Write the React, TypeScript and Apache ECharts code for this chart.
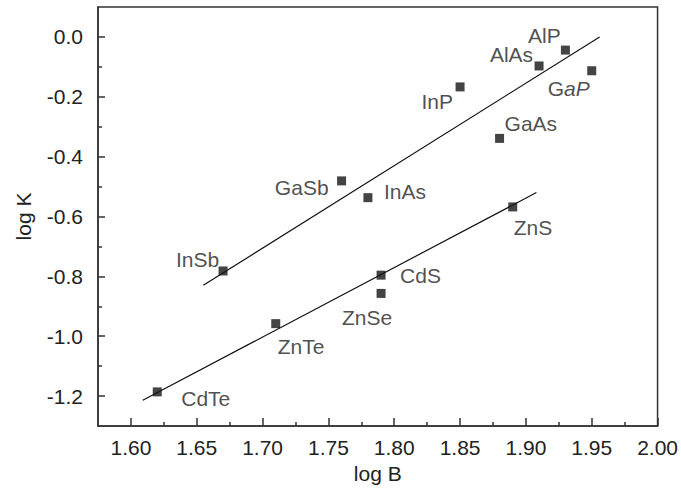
import React, { useEffect, useRef } from "react";
import * as echarts from "echarts";

const compounds = ["AlP", "AlAs", "GaP", "InP", "GaAs", "GaSb", "InAs", "InSb", "ZnS", "CdS", "ZnSe", "ZnTe", "CdTe"];
const logB = [1.93, 1.91, 1.95, 1.85, 1.88, 1.76, 1.78, 1.67, 1.89, 1.79, 1.79, 1.71, 1.62];
const logK = [-0.044, -0.097, -0.113, -0.167, -0.339, -0.481, -0.537, -0.782, -0.568, -0.796, -0.857, -0.958, -1.186];

const upperFitB = [1.655, 1.956];
const upperFitK = [-0.83, 0.0];
const lowerFitB = [1.609, 1.908];
const lowerFitK = [-1.214, -0.52];

const xMajorTicks = [1.6, 1.65, 1.7, 1.75, 1.8, 1.85, 1.9, 1.95, 2.0];
const xMinorTicks = [1.625, 1.675, 1.725, 1.775, 1.825, 1.875, 1.925, 1.975];
const yMajorTicks = [-1.2, -1.0, -0.8, -0.6, -0.4, -0.2, 0.0];
const yMinorTicks = [-1.1, -0.9, -0.7, -0.5, -0.3, -0.1];

// label placement per compound: [align, dx, dy]
const labelPlacement: Record<string, [string, number, number]> = {
  AlP: ["center", -21, -15],
  AlAs: ["right", -6, -11],
  GaP: ["center", -23, 18],
  InP: ["right", -7, 15],
  GaAs: ["left", 5, -15],
  InAs: ["left", 16, -6],
  GaSb: ["right", -13, 7],
  InSb: ["right", -4, -11],
  CdS: ["left", 19, 0],
  ZnSe: ["center", -14, 24],
  ZnTe: ["left", 2, 23],
  CdTe: ["left", 24, 7],
  ZnS: ["left", 1, 21],
};

const FONT = "Liberation Sans, Arial, sans-serif";
const FS = 21;
const TXT = "#222";
const AX = "#333";

export default function App() {
  const ref = useRef<HTMLDivElement>(null);
  useEffect(() => {
    if (!ref.current) return;
    const chart = echarts.init(ref.current, undefined, { renderer: "svg" });
    const points = compounds.map((name, i) => {
      const [align, dx, dy] = labelPlacement[name];
      const isGaP = name === "GaP";
      return {
        name,
        value: [logB[i], logK[i]],
        label: {
          show: true,
          position: "inside",
          align,
          verticalAlign: "middle",
          offset: [dx, dy],
          formatter: isGaP ? "{n|G}{i|aP}" : name,
          color: TXT,
          fontSize: FS,
          fontFamily: FONT,
          rich: isGaP
            ? {
                n: { fontSize: FS, fontFamily: FONT, color: TXT },
                i: { fontSize: FS, fontFamily: FONT, color: TXT, fontStyle: "italic" },
              }
            : undefined,
        },
      };
    });
    const option: any = {
      animation: false,
      backgroundColor: "#fff",
      grid: {
        left: 98,
        top: 7,
        right: 21,
        bottom: 65,
        show: true,
        borderColor: AX,
        borderWidth: 1.5,
        backgroundColor: "transparent",
      },
      xAxis: [
        {
          type: "value",
          min: 1.575,
          max: 2.0,
          name: "log B",
          nameLocation: "middle",
          nameGap: 37,
          nameTextStyle: { fontSize: FS, fontFamily: FONT, color: TXT },
          axisLine: { show: true, onZero: false, lineStyle: { color: AX, width: 1.5 } },
          axisTick: { show: true, inside: true, length: 8, customValues: xMajorTicks, lineStyle: { color: AX, width: 1.5 } },
          axisLabel: {
            customValues: xMajorTicks,
            formatter: (v: number) => v.toFixed(2),
            fontSize: FS,
            fontFamily: FONT,
            color: TXT,
            margin: 11,
          },
          splitLine: { show: false },
        },
        {
          type: "value",
          min: 1.575,
          max: 2.0,
          position: "bottom",
          axisLine: { show: false, onZero: false },
          axisTick: { show: true, inside: true, length: 4, customValues: xMinorTicks, lineStyle: { color: AX, width: 1.5 } },
          axisLabel: { show: false },
          splitLine: { show: false },
        },
      ],
      yAxis: [
        {
          type: "value",
          min: -1.3,
          max: 0.1,
          name: "log K",
          nameLocation: "middle",
          nameGap: 64,
          nameRotate: 90,
          nameTextStyle: { fontSize: FS, fontFamily: FONT, color: TXT },
          axisLine: { show: true, onZero: false, lineStyle: { color: AX, width: 1.5 } },
          axisTick: { show: true, inside: true, length: 7, customValues: yMajorTicks, lineStyle: { color: AX, width: 1.5 } },
          axisLabel: {
            customValues: yMajorTicks,
            formatter: (v: number) => v.toFixed(1),
            fontSize: FS,
            fontFamily: FONT,
            color: TXT,
            margin: 15,
          },
          splitLine: { show: false },
        },
        {
          type: "value",
          min: -1.3,
          max: 0.1,
          position: "left",
          axisLine: { show: false, onZero: false },
          axisTick: { show: true, inside: true, length: 4, customValues: yMinorTicks, lineStyle: { color: AX, width: 1.5 } },
          axisLabel: { show: false },
          splitLine: { show: false },
        },
      ],
      series: [
        {
          type: "line",
          data: upperFitB.map((b, i) => [b, upperFitK[i]]),
          showSymbol: false,
          lineStyle: { color: "#111", width: 1.2 },
          silent: true,
          z: 1,
        },
        {
          type: "line",
          data: lowerFitB.map((b, i) => [b, lowerFitK[i]]),
          showSymbol: false,
          lineStyle: { color: "#111", width: 1.2 },
          silent: true,
          z: 1,
        },
        {
          type: "scatter",
          symbol: "rect",
          symbolSize: 9,
          itemStyle: { color: "#151515" },
          data: points,
          z: 3,
        },
      ],
    };
    chart.setOption(option);
    return () => chart.dispose();
  }, []);
  return (
    <div
      ref={ref}
      style={{ position: "absolute", left: 0, top: 0, width: 681, height: 491, background: "#fff" }}
    />
  );
}
